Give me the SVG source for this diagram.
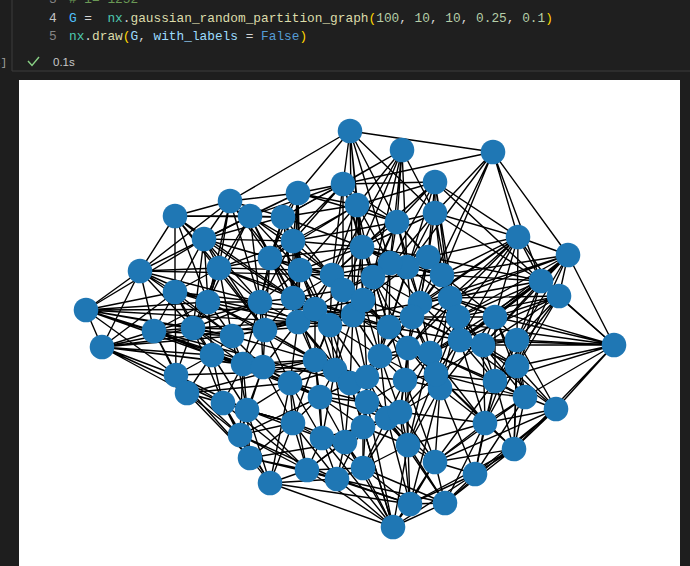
<svg xmlns="http://www.w3.org/2000/svg" width="690" height="566" viewBox="0 0 690 566">
<style>
.code{font-family:"Liberation Mono","DejaVu Sans Mono",monospace;font-size:12.8px;fill:#d4d4d4}
.ln{font-family:"Liberation Mono","DejaVu Sans Mono",monospace;font-size:12.8px;fill:#858585}
#edges path{fill:none;stroke:#000;stroke-width:1.4}
#nodes circle{fill:#1f77b4}
</style>
<rect x="0" y="0" width="690" height="566" fill="#1e1e1e"/>
<rect x="12" y="0" width="678" height="71" fill="#1f1f1f"/>
<line x1="12" y1="71" x2="690" y2="71" stroke="#3c3c3c" stroke-width="1"/>
<line x1="12" y1="0" x2="12" y2="71" stroke="#3c3c3c" stroke-width="1"/>
<g id="header">
<text class="ln" x="49" y="3">3</text>
<text class="code" x="69" y="3" style="fill:#6a9955" xml:space="preserve"># i= 1252</text>
<text class="ln" x="49" y="22" style="fill:#c6c6c6">4</text>
<text class="code" x="69" y="22" xml:space="preserve"><tspan style="fill:#4fc1ff">G</tspan> =  <tspan style="fill:#4ec9b0">nx</tspan>.<tspan style="fill:#dcdcaa">gaussian_random_partition_graph</tspan><tspan style="fill:#ffd700">(</tspan><tspan style="fill:#b5cea8">100</tspan>, <tspan style="fill:#b5cea8">10</tspan>, <tspan style="fill:#b5cea8">10</tspan>, <tspan style="fill:#b5cea8">0.25</tspan>, <tspan style="fill:#b5cea8">0.1</tspan><tspan style="fill:#ffd700">)</tspan></text>
<text class="ln" x="49" y="40">5</text>
<text class="code" x="69" y="40" xml:space="preserve"><tspan style="fill:#4ec9b0">nx</tspan>.<tspan style="fill:#dcdcaa">draw</tspan><tspan style="fill:#ffd700">(</tspan><tspan style="fill:#9cdcfe">G</tspan>, <tspan style="fill:#9cdcfe">with_labels</tspan> = <tspan style="fill:#569cd6">False</tspan><tspan style="fill:#ffd700">)</tspan></text>
<text x="7" y="66" text-anchor="end" style="font-family:'Liberation Mono',monospace;font-size:11px;fill:#a0a0a0">[4]</text>
<polyline points="28,61 32,65.5 39,57" fill="none" stroke="#89d185" stroke-width="1.4"/>
<text x="53" y="66" style="font-family:'Liberation Sans',Arial,sans-serif;font-size:11.5px;fill:#c8c8c8">0.1s</text>
</g>
<rect x="19" y="80" width="661" height="486" fill="#ffffff"/>
<g id="edges">
<path d="M350 131L493 152M350 131L343 184M350 131L298 193M350 131L230 201M350 131L357 205M350 131L397 222M350 131L435 213M350 131L362 247M350 131L390 263M350 131L353 315"/>
<path d="M402 150L343 184M402 150L357 205M402 150L397 222M402 150L435 213M402 150L362 247M402 150L373 277M402 150L407 267M402 150L283 217M402 150L380 356M402 150L332 275"/>
<path d="M493 152L343 184M493 152L518 237M493 152L568 255M493 152L442 275M493 152L435 213M493 152L420 303M493 152L541 281M493 152L407 267"/>
<path d="M343 184L298 193M343 184L357 205M343 184L250 216M343 184L283 217M343 184L293 241M343 184L397 222M343 184L362 247M343 184L270 258M343 184L332 275M343 184L435 182M343 184L389 327M343 184L343 290"/>
<path d="M298 193L230 201M298 193L250 216M298 193L283 217M298 193L204 239M298 193L293 241M298 193L270 258M298 193L300 270M298 193L357 205M298 193L293 298M298 193L397 222M298 193L298 322"/>
<path d="M435 182L435 213M435 182L397 222M435 182L518 237M435 182L362 247M435 182L428 257M435 182L541 281M435 182L389 327M435 182L390 263M435 182L332 275M435 182L357 205M435 182L450 298M435 182L460 340"/>
<path d="M230 201L175 216M230 201L250 216M230 201L204 239M230 201L219 268M230 201L270 258M230 201L283 217M230 201L140 271M230 201L208 302M230 201L315 309M230 201L260 302"/>
<path d="M175 216L250 216M175 216L204 239M175 216L140 271M175 216L219 268M175 216L175 292M175 216L283 217M175 216L208 302M175 216L293 298M175 216L265 330"/>
<path d="M357 205L283 217M357 205L397 222M357 205L293 241M357 205L362 247M357 205L270 258M357 205L390 263M357 205L332 275M357 205L373 277M357 205L300 270M357 205L363 300M357 205L353 315"/>
<path d="M250 216L204 239M250 216L283 217M250 216L219 268M250 216L270 258M250 216L300 270M250 216L260 302M250 216L293 241M250 216L208 302M250 216L293 298M250 216L332 275"/>
<path d="M283 217L293 241M283 217L270 258M283 217L300 270M283 217L204 239M283 217L362 247M283 217L260 302M283 217L293 298M283 217L298 322M283 217L343 290"/>
<path d="M435 213L397 222M435 213L518 237M435 213L428 257M435 213L407 267M435 213L442 275M435 213L362 247M435 213L420 303M435 213L450 298M435 213L541 281M435 213L363 300"/>
<path d="M397 222L362 247M397 222L428 257M397 222L407 267M397 222L390 263M397 222L293 241M397 222L373 277M397 222L442 275M397 222L420 303M397 222L363 300M397 222L353 315"/>
<path d="M204 239L219 268M204 239L270 258M204 239L140 271M204 239L175 292M204 239L208 302M204 239L260 302M204 239L293 241M204 239L193 328M204 239L265 330M204 239L332 275M204 239L330 325"/>
<path d="M293 241L270 258M293 241L300 270M293 241L362 247M293 241L293 298M293 241L332 275M293 241L219 268M293 241L260 302M293 241L315 309M293 241L330 325"/>
<path d="M518 237L428 257M518 237L442 275M518 237L541 281M518 237L559 296M518 237L450 298M518 237L458 317M518 237L495 317M518 237L460 340M518 237L420 303M518 237L517 340M518 237L568 255M518 237L389 327M518 237L408 348"/>
<path d="M568 255L541 281M568 255L559 296M568 255L495 317M568 255L517 340M568 255L458 317M568 255L450 298M568 255L442 275M568 255L483 345M568 255L614 345M568 255L517 366M568 255L420 303M568 255L460 340"/>
<path d="M140 271L175 292M140 271L86 310M140 271L219 268M140 271L208 302M140 271L154 331M140 271L193 328M140 271L102 347M140 271L232 336M140 271L260 302M140 271L332 275"/>
<path d="M219 268L270 258M219 268L175 292M219 268L208 302M219 268L260 302M219 268L193 328M219 268L232 336M219 268L300 270M219 268L265 330M219 268L293 298M219 268L353 315"/>
<path d="M270 258L300 270M270 258L260 302M270 258L293 298M270 258L332 275M270 258L265 330M270 258L298 322M270 258L315 309M270 258L362 247"/>
<path d="M300 270L362 247M300 270L293 298M300 270L332 275M300 270L343 290M300 270L298 322M300 270L315 309M300 270L260 302M300 270L330 325M300 270L390 263"/>
<path d="M362 247L390 263M362 247L332 275M362 247L373 277M362 247L407 267M362 247L343 290M362 247L363 300M362 247L428 257M362 247L353 315M362 247L442 275"/>
<path d="M428 257L407 267M428 257L442 275M428 257L373 277M428 257L420 303M428 257L450 298M428 257L390 263M428 257L412 317M428 257L541 281M428 257L458 317"/>
<path d="M407 267L390 263M407 267L442 275M407 267L373 277M407 267L420 303M407 267L412 317M407 267L363 300M407 267L389 327M407 267L450 298"/>
<path d="M390 263L373 277M390 263L332 275M390 263L343 290M390 263L363 300M390 263L420 303M390 263L389 327M390 263L353 315M390 263L442 275"/>
<path d="M442 275L541 281M442 275L420 303M442 275L450 298M442 275L412 317M442 275L458 317M442 275L495 317M442 275L373 277M442 275L460 340"/>
<path d="M175 292L208 302M175 292L86 310M175 292L154 331M175 292L193 328M175 292L102 347M175 292L232 336M175 292L212 355M175 292L260 302M175 292L176 375M175 292L330 325"/>
<path d="M208 302L260 302M208 302L193 328M208 302L232 336M208 302L265 330M208 302L154 331M208 302L212 355M208 302L219 268M208 302L298 322M208 302L315 360"/>
<path d="M86 310L154 331M86 310L102 347M86 310L193 328M86 310L176 375M86 310L208 302M86 310L212 355M86 310L232 336M86 310L298 322M86 310L204 239M86 310L315 309M86 310L263 367"/>
<path d="M154 331L102 347M154 331L193 328M154 331L212 355M154 331L176 375M154 331L187 393M154 331L232 336M154 331L243 364M154 331L260 302M154 331L350 383"/>
<path d="M260 302L293 298M260 302L232 336M260 302L265 330M260 302L298 322M260 302L315 309M260 302L243 364M260 302L263 367M260 302L193 328"/>
<path d="M293 298L332 275M293 298L343 290M293 298L298 322M293 298L315 309M293 298L330 325M293 298L265 330M293 298L315 360M293 298L353 315"/>
<path d="M332 275L343 290M332 275L373 277M332 275L315 309M332 275L330 325M332 275L353 315M332 275L363 300M332 275L298 322M332 275L389 327"/>
<path d="M343 290L373 277M343 290L315 309M343 290L330 325M343 290L353 315M343 290L363 300M343 290L389 327M343 290L315 360M343 290L335 370"/>
<path d="M373 277L353 315M373 277L363 300M373 277L389 327M373 277L420 303M373 277L412 317M373 277L380 356M373 277L408 348"/>
<path d="M541 281L559 296M541 281L450 298M541 281L458 317M541 281L495 317M541 281L517 340M541 281L460 340M541 281L483 345M541 281L420 303M541 281L614 345M541 281L517 366M541 281L430 353"/>
<path d="M559 296L495 317M559 296L517 340M559 296L483 345M559 296L614 345M559 296L458 317M559 296L517 366M559 296L460 340M559 296L450 298M559 296L495 381"/>
<path d="M420 303L450 298M420 303L389 327M420 303L412 317M420 303L458 317M420 303L460 340M420 303L408 348M420 303L353 315M420 303L380 356M420 303L430 353"/>
<path d="M450 298L412 317M450 298L458 317M450 298L495 317M450 298L460 340M450 298L483 345M450 298L408 348M450 298L430 353M450 298L436 374"/>
<path d="M102 347L212 355M102 347L176 375M102 347L187 393M102 347L193 328M102 347L243 364M102 347L223 403M102 347L232 336M102 347L263 367M102 347L298 322"/>
<path d="M193 328L232 336M193 328L212 355M193 328L243 364M193 328L265 330M193 328L176 375M193 328L263 367M193 328L298 322M193 328L223 403"/>
<path d="M232 336L265 330M232 336L212 355M232 336L243 364M232 336L263 367M232 336L298 322M232 336L315 360M232 336L247 410"/>
<path d="M265 330L298 322M265 330L263 367M265 330L315 360M265 330L315 309M265 330L330 325M265 330L243 364M265 330L290 383M265 330L335 370"/>
<path d="M298 322L315 309M298 322L330 325M298 322L315 360M298 322L335 370M298 322L263 367M298 322L353 315M298 322L290 383M298 322L350 383"/>
<path d="M315 309L330 325M315 309L353 315M315 309L363 300M315 309L315 360M315 309L335 370M315 309L389 327M315 309L350 383"/>
<path d="M330 325L353 315M330 325L363 300M330 325L389 327M330 325L315 360M330 325L335 370M330 325L350 383M330 325L367 377M330 325L380 356"/>
<path d="M353 315L363 300M353 315L389 327M353 315L412 317M353 315L335 370M353 315L350 383M353 315L367 377M353 315L380 356M353 315L408 348"/>
<path d="M363 300L389 327M363 300L412 317M363 300L380 356M363 300L408 348M363 300L367 377"/>
<path d="M389 327L412 317M389 327L380 356M389 327L408 348M389 327L430 353M389 327L367 377M389 327L405 380M389 327L460 340"/>
<path d="M412 317L458 317M412 317L460 340M412 317L408 348M412 317L430 353M412 317L380 356M412 317L405 380M412 317L436 374"/>
<path d="M458 317L495 317M458 317L460 340M458 317L483 345M458 317L430 353M458 317L436 374M458 317L495 381M458 317L440 388"/>
<path d="M495 317L460 340M495 317L483 345M495 317L517 340M495 317L495 381M495 317L517 366M495 317L430 353M495 317L525 397M495 317L440 388"/>
<path d="M460 340L483 345M460 340L517 340M460 340L430 353M460 340L436 374M460 340L495 381M460 340L517 366M460 340L440 388M460 340L485 423"/>
<path d="M483 345L517 340M483 345L495 381M483 345L517 366M483 345L525 397M483 345L436 374M483 345L485 423M483 345L556 409"/>
<path d="M517 340L614 345M517 340L517 366M517 340L525 397M517 340L556 409M517 340L495 381M517 340L514 449M517 340L485 423"/>
<path d="M614 345L517 366M614 345L525 397M614 345L556 409M614 345L483 345M614 345L460 340M614 345L495 317M614 345L495 381M614 345L514 449M614 345L450 298M614 345L412 317"/>
<path d="M212 355L243 364M212 355L176 375M212 355L187 393M212 355L223 403M212 355L263 367M212 355L247 410M212 355L290 383M212 355L320 397"/>
<path d="M243 364L263 367M243 364L290 383M243 364L223 403M243 364L247 410M243 364L315 360M243 364L240 435M243 364L320 397"/>
<path d="M263 367L315 360M263 367L290 383M263 367L320 397M263 367L247 410M263 367L293 423M263 367L335 370M263 367L240 435"/>
<path d="M315 360L335 370M315 360L350 383M315 360L290 383M315 360L320 397M315 360L293 423M315 360L367 377M315 360L322 438"/>
<path d="M335 370L350 383M335 370L367 377M335 370L320 397M335 370L367 402M335 370L322 438M335 370L345 442M335 370L290 383"/>
<path d="M350 383L367 377M350 383L380 356M350 383L367 402M350 383L320 397M350 383L345 442M350 383L363 427M350 383L387 418"/>
<path d="M367 377L380 356M367 377L367 402M367 377L405 380M367 377L363 427M367 377L387 418M367 377L408 348M367 377L400 412"/>
<path d="M380 356L408 348M380 356L405 380M380 356L367 402M380 356L400 412M380 356L430 353M380 356L387 418M380 356L440 388"/>
<path d="M408 348L430 353M408 348L405 380M408 348L440 388M408 348L436 374M408 348L400 412M408 348L408 445"/>
<path d="M430 353L405 380M430 353L440 388M430 353L436 374M430 353L495 381M430 353L485 423M430 353L400 412M430 353L408 445"/>
<path d="M176 375L187 393M176 375L223 403M176 375L247 410M176 375L240 435M176 375L250 458M176 375L335 370"/>
<path d="M187 393L223 403M187 393L240 435M187 393L247 410M187 393L250 458M187 393L293 423M187 393L290 383M187 393L315 360"/>
<path d="M290 383L320 397M290 383L293 423M290 383L247 410M290 383L322 438M290 383L367 402M290 383L307 470"/>
<path d="M320 397L367 402M320 397L293 423M320 397L322 438M320 397L345 442M320 397L363 427M320 397L387 418"/>
<path d="M367 402L405 380M367 402L363 427M367 402L387 418M367 402L400 412M367 402L345 442M367 402L408 445M367 402L363 468"/>
<path d="M405 380L440 388M405 380L387 418M405 380L400 412M405 380L408 445M405 380L436 374M405 380L435 462"/>
<path d="M440 388L436 374M440 388L400 412M440 388L485 423M440 388L408 445M440 388L435 462M440 388L525 397M440 388L475 474"/>
<path d="M436 374L495 381M436 374L485 423M436 374L400 412M436 374L525 397M436 374L408 445"/>
<path d="M495 381L517 366M495 381L525 397M495 381L485 423M495 381L514 449M495 381L475 474M495 381L435 462"/>
<path d="M517 366L525 397M517 366L556 409M517 366L514 449M517 366L485 423M517 366L412 317"/>
<path d="M525 397L556 409M525 397L485 423M525 397L514 449M525 397L475 474M525 397L435 462M525 397L430 353"/>
<path d="M556 409L514 449M556 409L485 423M556 409L475 474M556 409L435 462M556 409L445 503M556 409L460 340"/>
<path d="M223 403L247 410M223 403L240 435M223 403L250 458M223 403L293 423M223 403L270 483M223 403L307 470"/>
<path d="M247 410L240 435M247 410L293 423M247 410L250 458M247 410L270 483M247 410L322 438M247 410L307 470"/>
<path d="M240 435L250 458M240 435L270 483M240 435L293 423M240 435L307 470M240 435L337 479M240 435L320 397"/>
<path d="M293 423L322 438M293 423L307 470M293 423L345 442M293 423L270 483M293 423L337 479M293 423L250 458"/>
<path d="M322 438L345 442M322 438L307 470M322 438L337 479M322 438L363 468M322 438L363 427M322 438L393 527"/>
<path d="M345 442L363 427M345 442L337 479M345 442L363 468M345 442L393 527M345 442L387 418M345 442L307 470"/>
<path d="M363 427L387 418M363 427L363 468M363 427L408 445M363 427L337 479M363 427L393 527M363 427L400 412"/>
<path d="M387 418L400 412M387 418L408 445M387 418L363 468M387 418L435 462M387 418L410 504"/>
<path d="M400 412L408 445M400 412L435 462M400 412L363 468M400 412L410 504M400 412L485 423"/>
<path d="M485 423L514 449M485 423L435 462M485 423L475 474M485 423L408 445M485 423L445 503"/>
<path d="M514 449L475 474M514 449L435 462M514 449L445 503M514 449L410 504M514 449L408 348M514 449L436 374"/>
<path d="M250 458L270 483M250 458L307 470M250 458L337 479M250 458L345 442"/>
<path d="M270 483L307 470M270 483L337 479M270 483L393 527M270 483L410 504M270 483L290 383"/>
<path d="M307 470L337 479M307 470L363 468M307 470L393 527M307 470L410 504M307 470L363 427"/>
<path d="M337 479L363 468M337 479L393 527M337 479L410 504M337 479L445 503"/>
<path d="M363 468L408 445M363 468L410 504M363 468L393 527M363 468L445 503"/>
<path d="M408 445L435 462M408 445L410 504M408 445L445 503M408 445L393 527"/>
<path d="M435 462L475 474M435 462L410 504M435 462L445 503M435 462L393 527"/>
<path d="M475 474L445 503M475 474L410 504M475 474L393 527"/>
<path d="M410 504L393 527M410 504L445 503M410 504L440 388M445 503L393 527M445 503L387 418M393 527L350 383M393 527L367 402"/>
</g>
<g id="nodes">
<g id="n1"><circle cx="350" cy="131" r="12.3"/></g>
<g id="n2"><circle cx="402" cy="150" r="12.3"/></g>
<g id="n3"><circle cx="493" cy="152" r="12.3"/></g>
<g id="n4"><circle cx="343" cy="184" r="12.3"/></g>
<g id="n5"><circle cx="298" cy="193" r="12.3"/></g>
<g id="n6"><circle cx="435" cy="182" r="12.3"/></g>
<g id="n7"><circle cx="230" cy="201" r="12.3"/></g>
<g id="n8"><circle cx="175" cy="216" r="12.3"/></g>
<g id="n9"><circle cx="357" cy="205" r="12.3"/></g>
<g id="n10"><circle cx="250" cy="216" r="12.3"/></g>
<g id="n11"><circle cx="283" cy="217" r="12.3"/></g>
<g id="n12"><circle cx="435" cy="213" r="12.3"/></g>
<g id="n13"><circle cx="397" cy="222" r="12.3"/></g>
<g id="n14"><circle cx="204" cy="239" r="12.3"/></g>
<g id="n15"><circle cx="293" cy="241" r="12.3"/></g>
<g id="n16"><circle cx="518" cy="237" r="12.3"/></g>
<g id="n17"><circle cx="568" cy="255" r="12.3"/></g>
<g id="n18"><circle cx="140" cy="271" r="12.3"/></g>
<g id="n19"><circle cx="219" cy="268" r="12.3"/></g>
<g id="n20"><circle cx="270" cy="258" r="12.3"/></g>
<g id="n21"><circle cx="300" cy="270" r="12.3"/></g>
<g id="n22"><circle cx="362" cy="247" r="12.3"/></g>
<g id="n23"><circle cx="428" cy="257" r="12.3"/></g>
<g id="n24"><circle cx="407" cy="267" r="12.3"/></g>
<g id="n25"><circle cx="390" cy="263" r="12.3"/></g>
<g id="n26"><circle cx="442" cy="275" r="12.3"/></g>
<g id="n27"><circle cx="175" cy="292" r="12.3"/></g>
<g id="n28"><circle cx="208" cy="302" r="12.3"/></g>
<g id="n29"><circle cx="86" cy="310" r="12.3"/></g>
<g id="n30"><circle cx="154" cy="331" r="12.3"/></g>
<g id="n31"><circle cx="260" cy="302" r="12.3"/></g>
<g id="n32"><circle cx="293" cy="298" r="12.3"/></g>
<g id="n33"><circle cx="332" cy="275" r="12.3"/></g>
<g id="n34"><circle cx="343" cy="290" r="12.3"/></g>
<g id="n35"><circle cx="373" cy="277" r="12.3"/></g>
<g id="n36"><circle cx="541" cy="281" r="12.3"/></g>
<g id="n37"><circle cx="559" cy="296" r="12.3"/></g>
<g id="n38"><circle cx="420" cy="303" r="12.3"/></g>
<g id="n39"><circle cx="450" cy="298" r="12.3"/></g>
<g id="n40"><circle cx="102" cy="347" r="12.3"/></g>
<g id="n41"><circle cx="193" cy="328" r="12.3"/></g>
<g id="n42"><circle cx="232" cy="336" r="12.3"/></g>
<g id="n43"><circle cx="265" cy="330" r="12.3"/></g>
<g id="n44"><circle cx="298" cy="322" r="12.3"/></g>
<g id="n45"><circle cx="315" cy="309" r="12.3"/></g>
<g id="n46"><circle cx="330" cy="325" r="12.3"/></g>
<g id="n47"><circle cx="353" cy="315" r="12.3"/></g>
<g id="n48"><circle cx="363" cy="300" r="12.3"/></g>
<g id="n49"><circle cx="389" cy="327" r="12.3"/></g>
<g id="n50"><circle cx="412" cy="317" r="12.3"/></g>
<g id="n51"><circle cx="458" cy="317" r="12.3"/></g>
<g id="n52"><circle cx="495" cy="317" r="12.3"/></g>
<g id="n53"><circle cx="460" cy="340" r="12.3"/></g>
<g id="n54"><circle cx="483" cy="345" r="12.3"/></g>
<g id="n55"><circle cx="517" cy="340" r="12.3"/></g>
<g id="n56"><circle cx="614" cy="345" r="12.3"/></g>
<g id="n57"><circle cx="212" cy="355" r="12.3"/></g>
<g id="n58"><circle cx="243" cy="364" r="12.3"/></g>
<g id="n59"><circle cx="263" cy="367" r="12.3"/></g>
<g id="n60"><circle cx="315" cy="360" r="12.3"/></g>
<g id="n61"><circle cx="335" cy="370" r="12.3"/></g>
<g id="n62"><circle cx="350" cy="383" r="12.3"/></g>
<g id="n63"><circle cx="367" cy="377" r="12.3"/></g>
<g id="n64"><circle cx="380" cy="356" r="12.3"/></g>
<g id="n65"><circle cx="408" cy="348" r="12.3"/></g>
<g id="n66"><circle cx="430" cy="353" r="12.3"/></g>
<g id="n67"><circle cx="176" cy="375" r="12.3"/></g>
<g id="n68"><circle cx="187" cy="393" r="12.3"/></g>
<g id="n69"><circle cx="290" cy="383" r="12.3"/></g>
<g id="n70"><circle cx="320" cy="397" r="12.3"/></g>
<g id="n71"><circle cx="367" cy="402" r="12.3"/></g>
<g id="n72"><circle cx="405" cy="380" r="12.3"/></g>
<g id="n73"><circle cx="440" cy="388" r="12.3"/></g>
<g id="n74"><circle cx="436" cy="374" r="12.3"/></g>
<g id="n75"><circle cx="495" cy="381" r="12.3"/></g>
<g id="n76"><circle cx="517" cy="366" r="12.3"/></g>
<g id="n77"><circle cx="525" cy="397" r="12.3"/></g>
<g id="n78"><circle cx="556" cy="409" r="12.3"/></g>
<g id="n79"><circle cx="223" cy="403" r="12.3"/></g>
<g id="n80"><circle cx="247" cy="410" r="12.3"/></g>
<g id="n81"><circle cx="240" cy="435" r="12.3"/></g>
<g id="n82"><circle cx="293" cy="423" r="12.3"/></g>
<g id="n83"><circle cx="322" cy="438" r="12.3"/></g>
<g id="n84"><circle cx="345" cy="442" r="12.3"/></g>
<g id="n85"><circle cx="363" cy="427" r="12.3"/></g>
<g id="n86"><circle cx="387" cy="418" r="12.3"/></g>
<g id="n87"><circle cx="400" cy="412" r="12.3"/></g>
<g id="n88"><circle cx="485" cy="423" r="12.3"/></g>
<g id="n89"><circle cx="514" cy="449" r="12.3"/></g>
<g id="n90"><circle cx="250" cy="458" r="12.3"/></g>
<g id="n91"><circle cx="270" cy="483" r="12.3"/></g>
<g id="n92"><circle cx="307" cy="470" r="12.3"/></g>
<g id="n93"><circle cx="337" cy="479" r="12.3"/></g>
<g id="n94"><circle cx="363" cy="468" r="12.3"/></g>
<g id="n95"><circle cx="408" cy="445" r="12.3"/></g>
<g id="n96"><circle cx="435" cy="462" r="12.3"/></g>
<g id="n97"><circle cx="475" cy="474" r="12.3"/></g>
<g id="n98"><circle cx="410" cy="504" r="12.3"/></g>
<g id="n99"><circle cx="445" cy="503" r="12.3"/></g>
<g id="n100"><circle cx="393" cy="527" r="12.3"/></g>
</g>
</svg>
